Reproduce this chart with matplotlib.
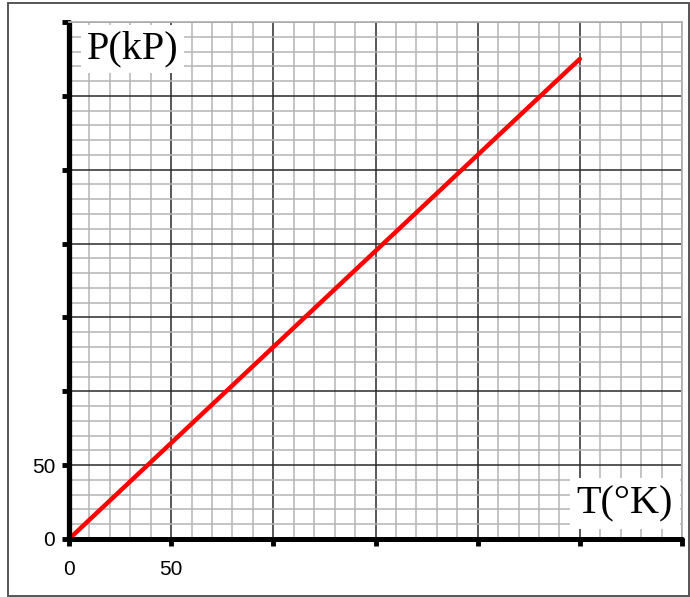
import numpy as np
import matplotlib
matplotlib.use("Agg")
import matplotlib.pyplot as plt
from matplotlib.patches import Rectangle

plt.rcParams['font.family'] = ['Liberation Sans', 'DejaVu Sans']

# data
T_vals = [0, 250]
P_vals = [0, 325]

x_major = [0, 50, 100, 150, 200, 250, 300]
y_major = [0, 50, 100, 150, 200, 250, 300, 350]
x_labels = ['0', '50', '', '', '', '', '']
y_labels = ['0', '50', '', '', '', '', '', '']
x_minor = np.arange(0, 301, 10)
y_minor = np.arange(0, 351, 10)

fig = plt.figure(figsize=(6.9, 5.97), dpi=100)
ax = fig.add_axes([69/690, 58/597, 613/690, 517/597])

ax.set_xlim(0, 300)
ax.set_ylim(0, 350)

### grid paper
ax.set_xticks(x_major)
ax.set_xticklabels(x_labels)
ax.set_yticks(y_major)
ax.set_yticklabels(y_labels)
ax.set_xticks(x_minor, minor=True)
ax.set_yticks(y_minor, minor=True)
ax.grid(which='minor', color='#b4b4b4', lw=1.1, zorder=0)
ax.grid(which='major', color='#2a2a2a', lw=1.1, zorder=0)
ax.set_axisbelow(True)

ax.tick_params(which='minor', length=0)
ax.tick_params(axis='y', which='major', direction='out', length=5, width=3.5, pad=5,
               labelsize=15, color='black')
ax.tick_params(axis='x', which='major', direction='out', length=5, width=3.5, pad=10,
               labelsize=15, color='black')

ax.spines['left'].set_linewidth(3.8)
ax.spines['bottom'].set_linewidth(3.6)
ax.spines['left'].set_capstyle('round')
ax.spines['bottom'].set_capstyle('round')
for s in ['top', 'right']:
    ax.spines[s].set_color('#b4b4b4')
    ax.spines[s].set_linewidth(1.3)
for t in ax.xaxis.get_major_ticks() + ax.yaxis.get_major_ticks():
    t.tick1line.set_solid_capstyle('round')

### the line
ax.plot(T_vals, P_vals, color='#ff0000', lw=3.2, solid_capstyle='round', zorder=2)

### axis names
ax.text(0.029, 0.930, 'P(kP)', transform=ax.transAxes, family='Liberation Serif',
        fontsize=29, ha='left', va='baseline', zorder=3,
        bbox=dict(facecolor='white', edgecolor='none', pad=4))
ax.text(0.985, 0.050, 'T(°K)', transform=ax.transAxes, family='Liberation Serif',
        fontsize=29, ha='right', va='baseline', zorder=3,
        bbox=dict(facecolor='white', edgecolor='none', pad=5))

# outer frame of the picture
fig.patches.append(Rectangle((8/690, 1.5/597), 681/690, 593/597, transform=fig.transFigure,
                             fill=False, edgecolor='#555555', lw=1.4))

fig.savefig('out.png', dpi=100)
